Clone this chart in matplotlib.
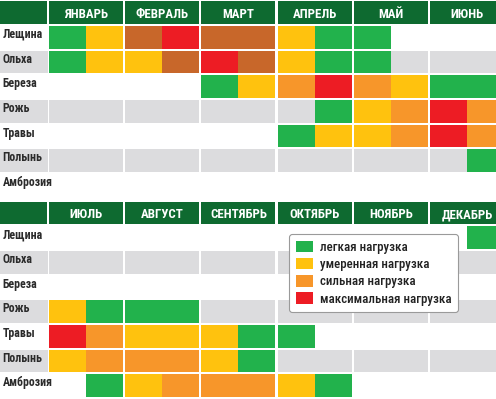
import matplotlib.pyplot as plt
from matplotlib.patches import Rectangle, Patch

plt.rcParams['font.family'] = ['Roboto Condensed', 'PT Sans Narrow',
                               'Sofia Sans Condensed', 'DejaVu Sans']

months_top = ['ЯНВАРЬ', 'ФЕВРАЛЬ', 'МАРТ', 'АПРЕЛЬ', 'МАЙ', 'ИЮНЬ']
months_bottom = ['ИЮЛЬ', 'АВГУСТ', 'СЕНТЯБРЬ', 'ОКТЯБРЬ', 'НОЯБРЬ', 'ДЕКАБРЬ']
plants = ['Лещина', 'Ольха', 'Береза', 'Рожь', 'Травы', 'Полынь', 'Амброзия']

# one code per half of a month:
# g light, y moderate, o strong, b strong (darker shade), r maximal, . none
levels_top = [
    'gybrbbygg...',
    'gyybrbygg...',
    '....gyoroygg',
    '.......gyoro',
    '......gyyoro',
    '...........g',
    '............',
]
levels_bottom = [
    '...........g',
    '............',
    '............',
    'yggg........',
    'royyygg.....',
    'yoooyg......',
    '.gyoooyg....',
]
gray_rows = [1, 3, 5]

colors = {'g': '#22b24c', 'y': '#ffc20e', 'o': '#f7962a',
          'b': '#c8672a', 'r': '#ed1c24'}
legend_codes = ['g', 'y', 'o', 'r']
legend_labels = ['легкая нагрузка', 'умеренная нагрузка',
                 'сильная нагрузка', 'максимальная нагрузка']

header_green = '#0e6a30'
gray = '#dcdcde'
x_left = -1.286
cell_w = 1.94
cell_h = 0.92


def draw_panel(ax, months, levels):
    ax.set_xlim(x_left, 11.73)
    ax.set_ylim(7, -1)
    ax.axis('off')

    # header
    ax.add_patch(Rectangle((x_left, -1), -x_left - 0.06, cell_h,
                           color=header_green, lw=0))
    for m, name in enumerate(months):
        ax.add_patch(Rectangle((2 * m, -1), cell_w, cell_h,
                               color=header_green, lw=0))
        ax.text(2 * m + cell_w / 2, -1 + 0.54, name,
                color='white', fontsize=9.3, fontweight='bold',
                ha='center', va='center')

    for r, plant in enumerate(plants):
        if r in gray_rows:
            ax.add_patch(Rectangle((x_left, r), -x_left - 0.03, cell_h,
                                   color=gray, lw=0))
            for m in range(len(months)):
                ax.add_patch(Rectangle((2 * m, r), cell_w, cell_h,
                                       color=gray, lw=0))
        for h, code in enumerate(levels[r]):
            if code == '.':
                continue
            x = (h // 2) * 2 + (h % 2) * cell_w / 2
            ax.add_patch(Rectangle((x, r), cell_w / 2, cell_h,
                                   color=colors[code], lw=0))
        ax.text(x_left + 0.07, r + 0.34, plant, color='#2b2b2b',
                fontsize=8.6, fontweight='bold', ha='left', va='center')


fig = plt.figure(figsize=(4.96, 3.99), dpi=100)
ax_top = fig.add_axes([0, 0.502, 1, 0.4947])
ax_bottom = fig.add_axes([0, 0.0, 1, 0.4947])

draw_panel(ax_top, months_top, levels_top)
draw_panel(ax_bottom, months_bottom, levels_bottom)

handles = [Patch(facecolor=colors[c], edgecolor='none') for c in legend_codes]
leg = fig.legend(handles, legend_labels, loc='upper left',
                 bbox_to_anchor=(289 / 496, 1 - 234 / 399),
                 borderaxespad=0,
                 frameon=True, fancybox=True, framealpha=1,
                 edgecolor='#9a9a9a', fontsize=9.4,
                 prop={'size': 9.4, 'weight': 'medium'},
                 handlelength=1.35, handleheight=1.0, handletextpad=0.5,
                 labelspacing=0.3, borderpad=0.5)
leg.get_frame().set_linewidth(0.8)
for t in leg.get_texts():
    t.set_color('#222222')

fig.savefig('out.png', dpi=100)
